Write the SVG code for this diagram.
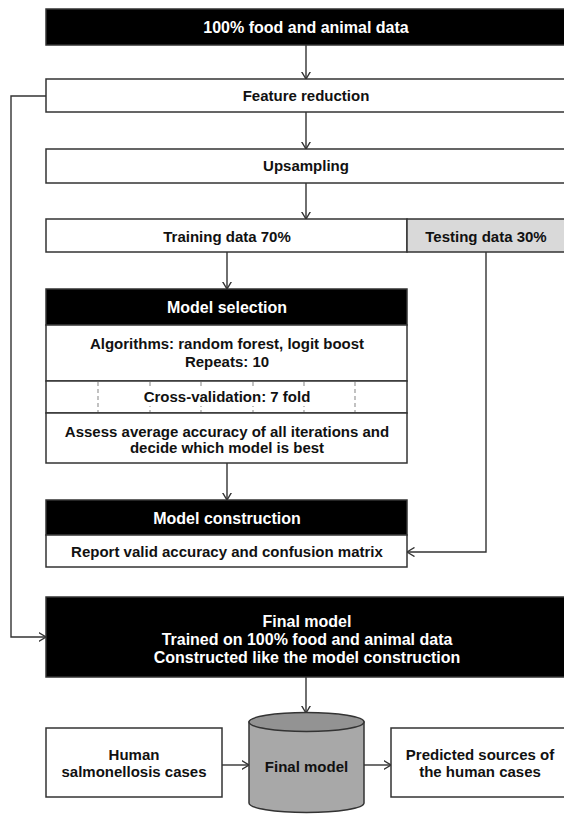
<svg xmlns="http://www.w3.org/2000/svg" width="564" height="814" viewBox="0 0 564 814">
<style>
.box{fill:#fff;stroke:#333;stroke-width:1.5}
.hdr{fill:#000;stroke:#333;stroke-width:1.5}
.gray{fill:#d9d9d9;stroke:#333;stroke-width:1.5}
.t{font-family:"Liberation Sans",Arial,sans-serif;font-weight:bold;font-size:15px;text-anchor:middle;fill:#111}
.w{fill:#fff;font-size:16px}
.con{fill:none;stroke:#333;stroke-width:1.4}
.dash{stroke:#999;stroke-width:1.2;stroke-dasharray:4,3}
</style>
<defs>
<marker id="arr" viewBox="0 0 8 10" refX="7.5" refY="5" markerWidth="8" markerHeight="10" markerUnits="userSpaceOnUse" orient="auto">
<path d="M0,0.5 L7.5,5 L0,9.5" fill="none" stroke="#333" stroke-width="1.4"/>
</marker>
</defs>
<rect width="564" height="814" fill="#fff"/>
<g id="connectors">
<line class="con" x1="306" y1="45" x2="306" y2="79" marker-end="url(#arr)"/>
<line class="con" x1="306" y1="112" x2="306" y2="149" marker-end="url(#arr)"/>
<line class="con" x1="306" y1="183" x2="306" y2="219" marker-end="url(#arr)"/>
<line class="con" x1="227" y1="252" x2="227" y2="289" marker-end="url(#arr)"/>
<line class="con" x1="227" y1="463" x2="227" y2="500" marker-end="url(#arr)"/>
<polyline class="con" points="486,252 486,552 407,552" marker-end="url(#arr)"/>
<polyline class="con" points="46,96 11,96 11,637 46,637" marker-end="url(#arr)"/>
<line class="con" x1="306" y1="677" x2="306" y2="713" marker-end="url(#arr)"/>
<line class="con" x1="222" y1="765" x2="249" y2="765" marker-end="url(#arr)"/>
<line class="con" x1="364" y1="765" x2="391" y2="765" marker-end="url(#arr)"/>
</g>
<g id="source">
<rect class="hdr" x="46" y="9" width="524" height="36"/>
<text class="t w" x="306" y="33">100% food and animal data</text>
</g>
<g id="feature-reduction">
<rect class="box" x="46" y="79" width="524" height="33"/>
<text class="t" x="306" y="101">Feature reduction</text>
</g>
<g id="upsampling">
<rect class="box" x="46" y="149" width="524" height="34"/>
<text class="t" x="306" y="171">Upsampling</text>
</g>
<g id="training">
<rect class="box" x="46" y="219" width="361" height="33"/>
<text class="t" x="227" y="242">Training data 70%</text>
</g>
<g id="testing">
<rect class="gray" x="407" y="219" width="163" height="33"/>
<text class="t" x="486" y="242">Testing data 30%</text>
</g>
<g id="model-selection">
<rect class="hdr" x="46" y="289" width="361" height="36"/>
<text class="t w" x="227" y="313">Model selection</text>
<rect class="box" x="46" y="325" width="361" height="56"/>
<text class="t" x="227" y="349">Algorithms: random forest, logit boost</text>
<text class="t" x="227" y="367">Repeats: 10</text>
<rect class="box" x="46" y="381" width="361" height="32"/>
<line class="dash" x1="98" y1="382" x2="98" y2="412"/>
<line class="dash" x1="150" y1="382" x2="150" y2="412"/>
<line class="dash" x1="201" y1="382" x2="201" y2="412"/>
<line class="dash" x1="253" y1="382" x2="253" y2="412"/>
<line class="dash" x1="304" y1="382" x2="304" y2="412"/>
<line class="dash" x1="355" y1="382" x2="355" y2="412"/>
<rect x="140" y="388" width="174" height="18" fill="#fff"/>
<text class="t" x="227" y="402">Cross-validation: 7 fold</text>
<rect class="box" x="46" y="413" width="361" height="50"/>
<text class="t" x="227" y="437">Assess average accuracy of all iterations and</text>
<text class="t" x="227" y="453">decide which model is best</text>
</g>
<g id="model-construction">
<rect class="hdr" x="46" y="500" width="361" height="35"/>
<text class="t w" x="227" y="524">Model construction</text>
<rect class="box" x="46" y="535" width="361" height="32"/>
<text class="t" x="227" y="557">Report valid accuracy and confusion matrix</text>
</g>
<g id="final-model">
<rect class="hdr" x="46" y="597" width="524" height="80"/>
<text class="t w" x="307" y="627">Final model</text>
<text class="t w" x="307" y="645">Trained on 100% food and animal data</text>
<text class="t w" x="307" y="663">Constructed like the model construction</text>
</g>
<g id="human-cases">
<rect class="box" x="46" y="728" width="176" height="69"/>
<text class="t" x="134" y="760">Human</text>
<text class="t" x="134" y="777">salmonellosis cases</text>
</g>
<g id="final-model-db">
<path d="M249,722 L249,803 A57.5,9.5 0 0 0 364,803 L364,722 Z" fill="#a8a8a8" stroke="#333" stroke-width="1.5"/>
<ellipse cx="306.5" cy="722" rx="57.5" ry="9.5" fill="#939393" stroke="#333" stroke-width="1.5"/>
<text class="t" x="306.5" y="772">Final model</text>
</g>
<g id="predicted">
<rect class="box" x="391" y="728" width="179" height="69"/>
<text class="t" x="480" y="760">Predicted sources of</text>
<text class="t" x="480" y="777">the human cases</text>
</g>
</svg>
